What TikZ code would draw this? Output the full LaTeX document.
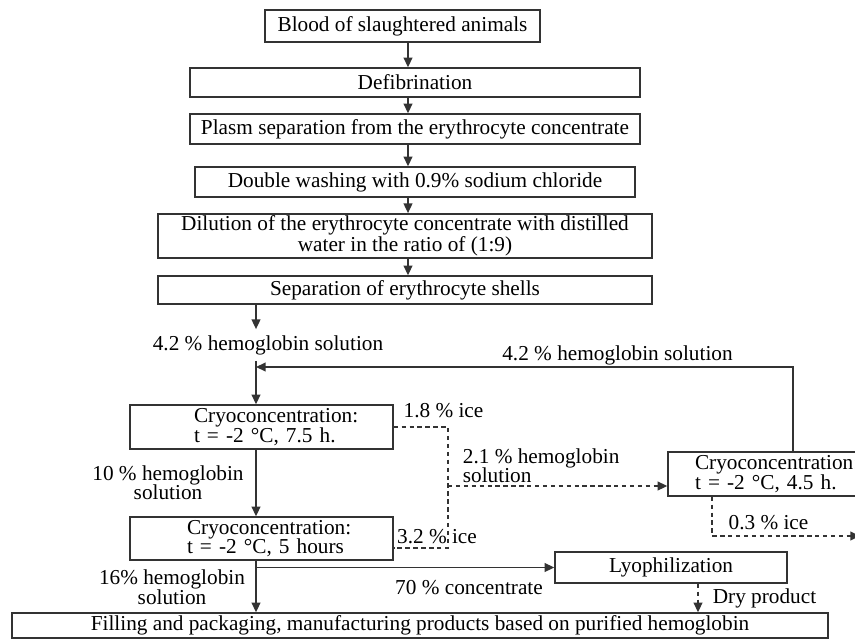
\documentclass[tikz,border=0pt]{standalone}
\usepackage{fontspec}
\setmainfont{Liberation Serif}
\usetikzlibrary{arrows.meta,calc,positioning}

\begin{document}
\begin{tikzpicture}[>={Triangle[length=5.5pt, width=5pt]}, font=\fontsize{12.1}{11.1}\selectfont,
    box/.style={draw=black!80, line width=0.8pt, inner ysep=1pt, align=center},
    cryo/.style={box, align=left, inner xsep=0pt, execute at begin node={\leftskip=#1}},
    flow/.style={->, line width=0.8pt, draw=black!80},
    dashflow/.style={flow, dash pattern=on 2.5pt off 2pt}]
    \useasboundingbox (0,0) rectangle (17.1,-12.82);
    \clip (0,0) rectangle (17.1,-12.82);

    \node at (8.05,-0.52) [box, minimum width=5.5cm, minimum height=0.64cm](blo){Blood of slaughtered animals};
    \node at (blo) [box, xshift=0.25cm, yshift=-1.13cm, minimum width=9cm, minimum height=0.58cm](def){Defibrination};
    \node at (def) [box, yshift=-0.93cm, minimum width=9cm, minimum height=0.6cm](pla){Plasm separation from the erythrocyte concentrate};
    \node at (pla) [box, yshift=-1.06cm, minimum width=8.8cm, minimum height=0.6cm](dou){Double washing with 0.9\% sodium chloride};
    \node at (dou) [box, xshift=-0.2cm, yshift=-1.08cm, minimum width=9.88cm, minimum height=0.88cm](dil){Dilution of the erythrocyte concentrate with distilled\\water in the ratio of (1:9)};
    \node at (dil) [box, yshift=-1.08cm, minimum width=9.88cm, minimum height=0.56cm](sep){Separation of erythrocyte shells};
    \node at (sep) [xshift=-2.74cm, yshift=-1.1cm](hem1){4.2 \% hemoglobin solution};
    \node at (sep) [cryo=1.28cm, text width=5.26cm, xshift=-2.87cm, yshift=-2.74cm, minimum height=0.88cm](cr1){Cryoconcentration:\\t = -2 °C, 7.5 h.};
    \node at (cr1) [cryo=1.14cm, text width=5.26cm, yshift=-2.23cm, minimum height=0.86cm](cr2){Cryoconcentration:\\t = -2 °C, 5 hours};
    \node at (cr1) [cryo=0.54cm, text width=4.4cm, xshift=10.33cm, yshift=-0.94cm, minimum height=0.88cm](cr3){Cryoconcentration:\\t = -2 °C, 4.5 h.};
    \node at (cr2) [box, xshift=8.19cm, yshift=-0.58cm, minimum width=4.64cm, minimum height=0.62cm](lyo){Lyophilization};
    \node at (cr2) [box, xshift=3.17cm, yshift=-1.74cm, minimum width=16.32cm, minimum height=0.5cm](fil){Filling and packaging, manufacturing products based on purified hemoglobin};

    %% Labels
    \node at (cr1) [xshift=-1.87cm, yshift=-1.11cm, align=center](sol10){10 \% hemoglobin\\solution};
    \node at (cr2) [xshift=-1.79cm, yshift=-0.97cm, align=center](sol16){16\% hemoglobin\\solution};
    \node at (cr1) [xshift=3.64cm, yshift=0.32cm](ice18){1.8 \% ice};
    \node at (cr2) [xshift=3.51cm, yshift=0.03cm](ice32){3.2 \% ice};
    \node at (cr1.east) [anchor=west, xshift=1.26cm, yshift=-0.77cm, align=left](sol21){2.1 \% hemoglobin\\solution};
    \node at (cr3) [xshift=-3.21cm, yshift=2.37cm](hem2){4.2 \% hemoglobin solution};
    \node at (cr3) [xshift=-0.19cm, yshift=-0.98cm](ice03){0.3 \% ice};
    \node at (lyo) [xshift=-4.04cm, yshift=-0.41cm](con70){70 \% concentrate};
    \node at (lyo) [xshift=1.87cm, yshift=-0.61cm](dry){Dry product};

    \coordinate (spine) at ([xshift=0.11cm]blo.center);
    \coordinate (col) at ([xshift=-0.11cm]cr1.center);
    \coordinate (turn) at ([xshift=0.3cm, yshift=2.14cm]cr3.center);
    \coordinate (icex) at ([xshift=3.73cm]cr1.center);
    \coordinate (ice2) at ([yshift=-0.19cm]cr2.east);
    \coordinate (in3) at ([yshift=-0.24cm]cr3.west);
    \coordinate (drop) at ([xshift=-1.32cm, yshift=-1.24cm]cr3.center);
    \coordinate (out) at ([xshift=1.64cm, yshift=-1.24cm]cr3.center);
    \coordinate (dryx) at ([xshift=0.54cm]lyo.south);

    %% Arrows
    \draw [flow] (blo.south -| spine) -- (def.north -| spine);
    \draw [flow] (def.south -| spine) -- (pla.north -| spine);
    \draw [flow] (pla.south -| spine) -- (dou.north -| spine);
    \draw [flow] (dou.south -| spine) -- (dil.north -| spine);
    \draw [flow] (dil.south -| spine) -- (sep.north -| spine);
    \draw [flow] (sep.south -| col) -- (hem1.north -| col);
    \draw [flow] (hem1.south -| col) -- (cr1.north -| col);
    \draw [flow] (cr3.north -| turn) -- (turn) -- (turn -| col);
    \draw [flow] (cr1.south -| col) -- (cr2.north -| col);
    \draw [flow] (cr2.south -| col) -- (fil.north -| col);
    \draw [flow] (col |- lyo.west) -- (lyo.west);
    \draw [dashflow, -] (cr1.east) -| (icex |- ice2) -- (ice2);
    \draw [dashflow] (icex |- in3) -- (in3);
    \draw [dashflow] (drop |- cr3.south) -- (drop) -- (out);
    \draw [dashflow] (dryx) -- (dryx |- fil.north);
\end{tikzpicture}
\end{document}
